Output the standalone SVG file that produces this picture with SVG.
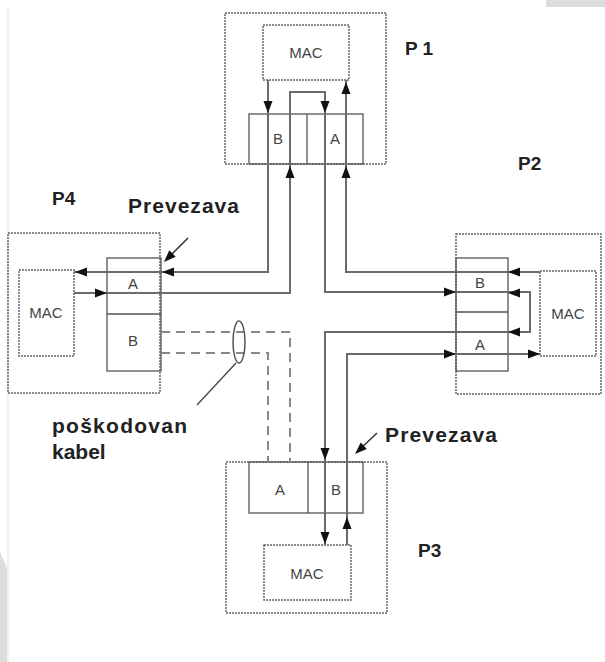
<svg xmlns="http://www.w3.org/2000/svg" width="605" height="662" viewBox="0 0 605 662">
<style>
.outer{fill:none;stroke:#666;stroke-width:1.5;stroke-dasharray:2 1}
.mac{fill:none;stroke:#666;stroke-width:1.5;stroke-dasharray:2 1}
.port{fill:none;stroke:#555;stroke-width:1.3}
.ln{fill:none;stroke:#6a6a6a;stroke-width:2}
.dash{fill:none;stroke:#888;stroke-width:2;stroke-dasharray:9 6}
.t{font-family:"Liberation Sans",Arial,sans-serif;fill:#444;font-size:15px;text-anchor:middle}
.lbl{font-family:"Liberation Sans",Arial,sans-serif;fill:#222;font-weight:bold}
.ah{fill:#111}
</style>
<defs>
<path id="ah" d="M0,0 L-12,-4.5 L-12,4.5 Z"/>
</defs>
<rect width="605" height="662" fill="#fff"/>
<rect x="546" y="0" width="59" height="7" fill="#ddd"/>
<path d="M0,552 L7,568 L7,662 L0,662 Z" fill="#ddd"/>
<line x1="8" y1="8" x2="8" y2="662" stroke="#eeece4" stroke-width="1.5"/>

<g id="P1">
<rect class="outer" x="225" y="13" width="161" height="151"/>
<rect class="mac" x="263" y="25" width="86" height="55"/>
<text class="t" x="306" y="58">MAC</text>
<rect class="port" x="249" y="114" width="114" height="50"/>
<line class="port" x1="307" y1="114" x2="307" y2="164"/>
<text class="t" x="278" y="144">B</text>
<text class="t" x="335" y="144">A</text>
<text class="lbl" x="405" y="55" font-size="19">P 1</text>
</g>

<g id="P2">
<rect class="outer" x="456" y="234" width="145" height="160"/>
<rect class="mac" x="540" y="271" width="56" height="85"/>
<text class="t" x="568" y="319">MAC</text>
<rect class="port" x="456" y="258" width="52" height="113"/>
<line class="port" x1="456" y1="312" x2="508" y2="312"/>
<text class="t" x="480" y="288">B</text>
<text class="t" x="480" y="350">A</text>
<text class="lbl" x="518" y="170" font-size="19">P2</text>
</g>

<g id="P3">
<rect class="outer" x="226" y="462" width="161" height="151"/>
<rect class="mac" x="264" y="545" width="87" height="55"/>
<text class="t" x="307" y="579">MAC</text>
<rect class="port" x="249" y="462" width="114" height="51"/>
<line class="port" x1="308" y1="462" x2="308" y2="513"/>
<text class="t" x="280" y="495">A</text>
<text class="t" x="336" y="495">B</text>
<text class="lbl" x="418" y="557" font-size="19">P3</text>
</g>

<g id="P4">
<rect class="outer" x="8" y="233" width="152" height="160"/>
<rect class="mac" x="19" y="270" width="55" height="86"/>
<text class="t" x="46" y="318">MAC</text>
<rect class="port" x="107" y="258" width="54" height="113"/>
<line class="port" x1="107" y1="314" x2="161" y2="314"/>
<text class="t" x="133" y="289">A</text>
<text class="t" x="133" y="346">B</text>
<text class="lbl" x="52" y="205" font-size="19">P4</text>
</g>

<g id="labels">
<text class="lbl" x="128" y="213" font-size="21" textLength="111">Prevezava</text>
<text class="lbl" x="385" y="442" font-size="21" textLength="112">Prevezava</text>
<text class="lbl" x="52" y="433" font-size="21" textLength="135">poškodovan</text>
<text class="lbl" x="52" y="459" font-size="21">kabel</text>
</g>

<g id="connectors">
<path class="ln" d="M268,80 V272 H74"/>
<path class="ln" d="M74,293 H290 V92 H325 V292 H530 V332 H325 V545"/>
<path class="ln" d="M347,545 V354 H540"/>
<path class="ln" d="M540,272 H346 V80"/>
<path class="dash" d="M161,332 H290 V462"/>
<path class="dash" d="M161,353 H268 V462"/>
<ellipse cx="239" cy="342" rx="6" ry="21" fill="none" stroke="#555" stroke-width="1.5"/>
<line x1="236" y1="363" x2="197" y2="405" stroke="#444" stroke-width="1.3"/>
<line x1="188" y1="238" x2="168" y2="258" stroke="#333" stroke-width="1.5"/>
<use href="#ah" class="ah" transform="translate(164,262) rotate(135)"/>
<line x1="377" y1="433" x2="359" y2="450" stroke="#333" stroke-width="1.5"/>
<use href="#ah" class="ah" transform="translate(355,454) rotate(137)"/>
<g class="ah">
<use href="#ah" transform="translate(268,113) rotate(90)"/>
<use href="#ah" transform="translate(290,166) rotate(-90)"/>
<use href="#ah" transform="translate(325,113) rotate(90)"/>
<use href="#ah" transform="translate(346,166) rotate(-90)"/>
<use href="#ah" transform="translate(346,82) rotate(-90)"/>
<use href="#ah" transform="translate(162,272) rotate(180)"/>
<use href="#ah" transform="translate(75,272) rotate(180)"/>
<use href="#ah" transform="translate(107,293)"/>
<use href="#ah" transform="translate(508,272) rotate(180)"/>
<use href="#ah" transform="translate(508,293) rotate(180)"/>
<use href="#ah" transform="translate(508,332) rotate(180)"/>
<use href="#ah" transform="translate(456,292)"/>
<use href="#ah" transform="translate(456,354)"/>
<use href="#ah" transform="translate(540,354)"/>
<use href="#ah" transform="translate(325,460) rotate(90)"/>
<use href="#ah" transform="translate(325,544) rotate(90)"/>
<use href="#ah" transform="translate(347,517) rotate(-90)"/>
</g>
</g>
</svg>
